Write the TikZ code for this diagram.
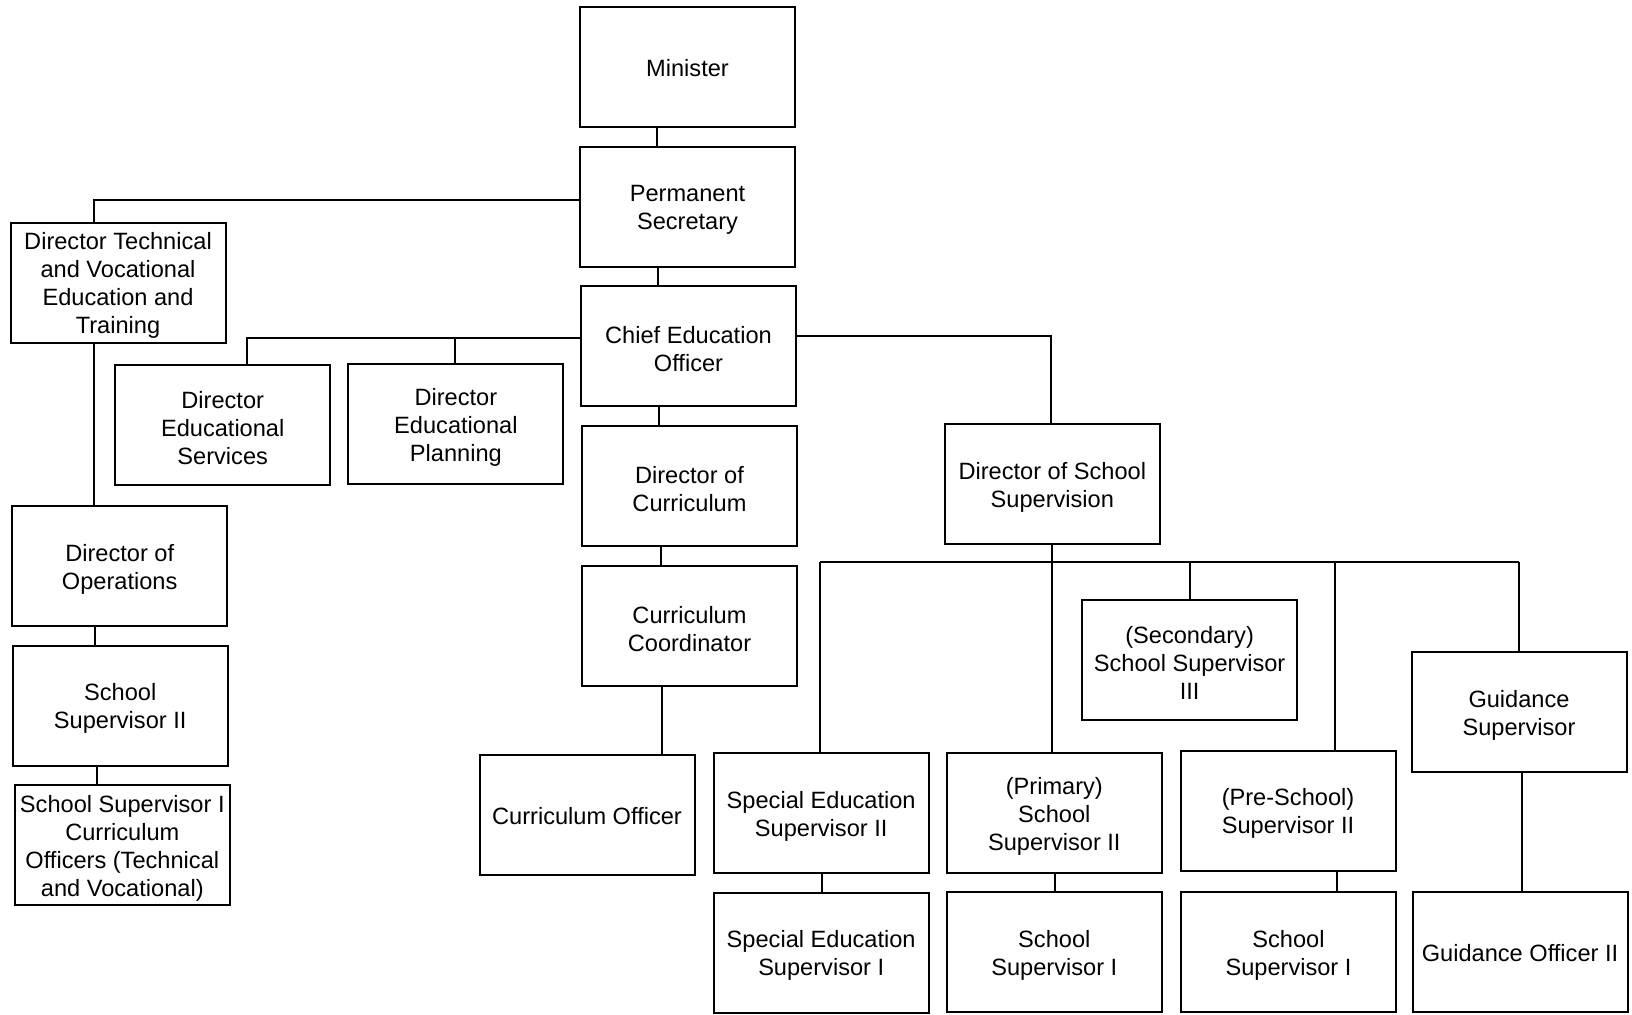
\documentclass[tikz,border=0pt]{standalone}
\usepackage{fontspec}
\setmainfont{Liberation Sans}
\newcommand\upone{\rule{0pt}{10pt}}
\newcommand\upmany{\rule{0pt}{11.6pt}}
\begin{document}
\begin{tikzpicture}[x=0.5pt,y=-0.5pt,
  box/.style={draw,line width=1pt,minimum width=107.5pt,minimum height=60pt,inner sep=0pt,align=center,font=\fontsize{11.8}{14}\selectfont},
  conn/.style={line width=1pt}]
\useasboundingbox[fill=white] (0,0) rectangle (1632,1014);
% nodes
\node[box] (min) at (687.5,67) {\upone Minister};
\node[box] (ps) at (687.5,206.6) {\upmany Permanent\\Secretary};
\node[box] (ceo) at (688.5,346) {\upmany Chief Education\\Officer};
\node[box] (dcur) at (689.5,486) {\upmany Director of\\Curriculum};
\node[box] (ccoord) at (689.5,625.5) {\upmany Curriculum\\Coordinator};
\node[box] (cofficer) at (587,815) {\upone Curriculum Officer};
\node[box] (dtvet) at (118,282.6) {\upmany Director Technical\\and Vocational\\Education and\\Training};
\node[box] (dops) at (119.7,566.2) {\upmany Director of\\Operations};
\node[box] (ss2l) at (120.2,705.6) {\upmany School\\Supervisor II};
\node[box] (ss1l) at (122.3,845.1) {\upmany School Supervisor I\\Curriculum\\Officers (Technical\\and Vocational)};
\node[box] (des) at (222.7,425.2) {\upmany Director\\Educational\\Services};
\node[box] (dep) at (455.9,424.1) {\upmany Director\\Educational\\Planning};
\node[box] (dss) at (1052.3,484) {\upmany Director of School\\Supervision};
\node[box] (sec) at (1189.6,659.9) {\upmany (Secondary)\\School Supervisor\\III};
\node[box] (guid) at (1519,711.9) {\upmany Guidance\\Supervisor};
\node[box] (sped2) at (821.2,813.4) {\upmany Special Education\\Supervisor II};
\node[box] (prim) at (1054.3,812.9) {\upmany (Primary)\\School\\Supervisor II};
\node[box] (pre) at (1288,810.8) {\upmany (Pre-School)\\Supervisor II};
\node[box] (sped1) at (821.2,952.5) {\upmany Special Education\\Supervisor I};
\node[box] (ss1a) at (1054.3,952) {\upmany School\\Supervisor I};
\node[box] (ss1b) at (1288.5,952) {\upmany School\\Supervisor I};
\node[box] (go2) at (1520,952) {\upone Guidance Officer II};
% helper coordinates
\coordinate (xmp) at (656.7,0);
\coordinate (xpc) at (657.8,0);
\coordinate (xcd) at (658.8,0);
\coordinate (xdc) at (660.9,0);
\coordinate (xco) at (662,0);
\coordinate (ydt) at (93.7,199.8);
\coordinate (xos) at (94.7,0);
\coordinate (xss) at (96.8,0);
\coordinate (hl) at (246.7,338.3);
\coordinate (dpx) at (454.8,338.3);
\coordinate (hr) at (1051.2,336.2);
\coordinate (bus) at (1052,562);
\coordinate (bl) at (820.2,562);
\coordinate (bsec) at (1189.6,562);
\coordinate (bpre) at (1335.3,562);
\coordinate (br) at (1518.5,562);
\coordinate (xsp) at (822.2,0);
\coordinate (xpr) at (1055.4,0);
\coordinate (xpe) at (1337.4,0);
\coordinate (xgu) at (1521.6,0);
% connectors
\draw[conn] (min.south -| xmp) -- (ps.north -| xmp);
\draw[conn] (ydt -| ps.west) -- (ydt) -- (dtvet.north -| ydt);
\draw[conn] (dtvet.south -| ydt) -- (dops.north -| ydt);
\draw[conn] (ps.south -| xpc) -- (ceo.north -| xpc);
\draw[conn] (hl -| ceo.west) -- (hl) -- (des.north -| hl);
\draw[conn] (dpx) -- (dep.north -| dpx);
\draw[conn] (hr -| ceo.east) -- (hr) -- (dss.north -| hr);
\draw[conn] (ceo.south -| xcd) -- (dcur.north -| xcd);
\draw[conn] (dcur.south -| xdc) -- (ccoord.north -| xdc);
\draw[conn] (ccoord.south -| xco) -- (cofficer.north -| xco);
\draw[conn] (dops.south -| xos) -- (ss2l.north -| xos);
\draw[conn] (ss2l.south -| xss) -- (ss1l.north -| xss);
\draw[conn] (dss.south -| bus) -- (prim.north -| bus);
\draw[conn] (bl) -- (br);
\draw[conn] (bl) -- (sped2.north -| bl);
\draw[conn] (bsec) -- (sec.north -| bsec);
\draw[conn] (bpre) -- (pre.north -| bpre);
\draw[conn] (br) -- (guid.north -| br);
\draw[conn] (sped2.south -| xsp) -- (sped1.north -| xsp);
\draw[conn] (prim.south -| xpr) -- (ss1a.north -| xpr);
\draw[conn] (pre.south -| xpe) -- (ss1b.north -| xpe);
\draw[conn] (guid.south -| xgu) -- (go2.north -| xgu);
\end{tikzpicture}
\end{document}
